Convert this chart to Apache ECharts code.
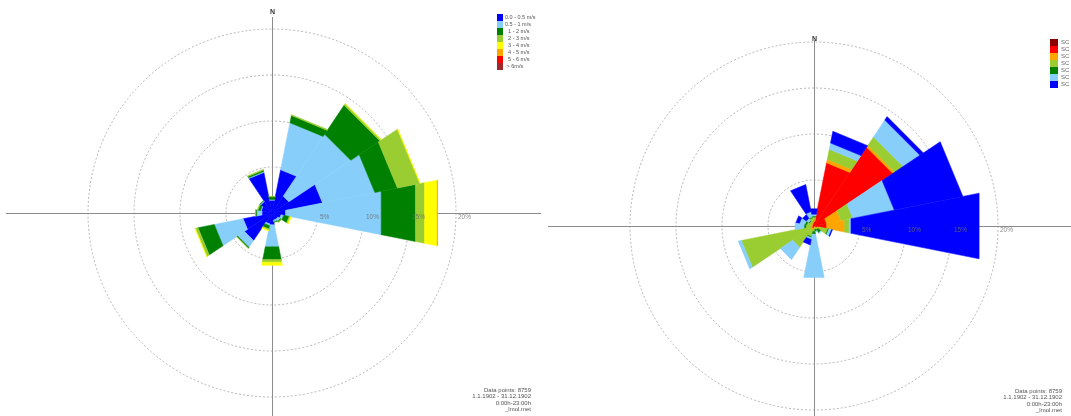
<!DOCTYPE html>
<html>
<head>
<meta charset="utf-8">
<script src="https://cdn.jsdelivr.net/npm/echarts@6/dist/echarts.min.js"></script>
<style>html,body{margin:0;padding:0;background:#fff}#c{width:1071px;height:416px}</style>
</head>
<body>
<div id="c"></div>
<script>
// ---- data ----
var directions = ['N','NNE','NE','ENE','E','ESE','SE','SSE','S','SSW','SW','WSW','W','WNW','NW','NNW'];
var sectorWidth = 22.5; // degrees per direction sector
var ringTicks = [5, 10, 15, 20];

// left rose: wind speed classes (% of time per sector)
var speedNames = ['0.0 - 0.5 m/s','0.5 - 1 m/s','  1 - 2 m/s','  2 - 3 m/s','  3 - 4 m/s','  4 - 5 m/s','  5 - 6 m/s',' > 6m/s'];
var speedColors = ['#0000ff','#87cefa','#008000','#9acd32','#ffff00','#ffa500','#ff0000','#a0282d'];
var spd00_05 = [1.4, 4.8, 2.2, 5.6, 1.5, 1.0, 0.8, 0.8, 1.3, 1.2, 3.6, 3.2, 1.1, 1.2, 1.5, 4.5];
var spd05_1  = [0.1, 5.2, 8.1, 5.8,10.6, 0.3, 0.3, 0.2,2.45, 0.2, 0.9, 3.2, 0.6, 0.1, 0.1, 0.1];
var spd1_2   = [0.3, 0.8, 3.8, 2.5, 3.8, 0.6, 0.1,0.05, 1.4,0.35, 0.1, 1.8, 0.1,0.25,0.05,0.15];
var spd2_3   = [0.05,0.1, 0.2, 2.5, 1.0,0.15,0.05, 0.0, 0.3,0.15,0.05, 0.3,0.05, 0.1, 0.0, 0.1];
var spd3_4   = [0.0, 0.0,0.02,0.05, 1.4, 0.1, 0.0, 0.0,0.35, 0.1, 0.0,0.05, 0.0, 0.0, 0.0, 0.0];
var spd4_5   = [0.0, 0.0, 0.0, 0.0,0.05, 0.0, 0.0, 0.0, 0.0, 0.0, 0.0, 0.0, 0.0, 0.0, 0.0, 0.0];
var spd5_6   = [0.0, 0.0, 0.0, 0.0, 0.0, 0.0, 0.0, 0.0, 0.0, 0.0, 0.0, 0.0, 0.0, 0.0, 0.0, 0.0];
var spd6     = [0.0, 0.0, 0.0, 0.0, 0.0, 0.0, 0.0, 0.0, 0.0, 0.0, 0.0, 0.0, 0.0, 0.0, 0.0, 0.0];
var speedData = [spd00_05, spd05_1, spd1_2, spd2_3, spd3_4, spd4_5, spd5_6, spd6];

// right rose: stability classes (% of time per sector)
var scNames = ['SC I','SC II','SC III/1','SC III/2','SC IV','SC V','SC VI'];
var scColors = ['#8b0000','#ff0000','#ffa500','#9acd32','#008000','#87cefa','#0000ff'];
var sc1 = [0.1, 0.1, 0.1, 0.1, 0.1,0.05, 0.0, 0.0, 0.0, 0.0, 0.0, 0.0, 0.0, 0.0, 0.0, 0.0];
var sc2 = [0.4, 6.9,10.2, 1.3, 1.3, 0.3, 0.1, 0.1, 0.2, 0.3, 0.3, 0.2, 0.2, 0.2, 0.2, 0.3];
var sc3 = [0.2, 0.4,0.25, 1.6, 2.0, 0.3, 0.1, 0.1, 0.1, 0.2, 0.2, 0.1, 0.1, 0.1, 0.1, 0.1];
var sc4 = [0.3, 1.1, 1.1, 1.3, 0.5, 0.9, 0.3, 0.2, 0.3, 0.7, 2.3,7.75, 0.6, 0.5, 0.3, 0.5];
var sc5 = [0.1, 0.0, 0.0, 0.0, 0.0, 0.1, 0.4, 0.2, 0.3, 0.1, 0.0, 0.0, 0.2, 0.2, 0.1, 0.1];
var sc6 = [0.2, 0.7, 2.2, 4.6, 0.2, 0.3, 0.1, 0.1, 4.8, 0.2, 1.6,0.35, 1.0, 0.6, 0.3, 0.6];
var sc7 = [0.6, 1.3,0.45, 7.6,14.2, 0.1, 0.0, 0.0, 0.0, 0.6, 0.0, 0.0, 0.0, 0.4, 0.5, 3.0];
var scData = [sc1, sc2, sc3, sc4, sc5, sc6, sc7];

var infoLines = ['Data points: 8759', '1.1.1902 - 31.12.1902', '0:00h-23:00h', '_lmol.met'];

// ---- layout ----
var L = {cx: 272, cy: 213, r: 184};
var R = {cx: 814, cy: 226, r: 184};
var FONT = 'Liberation Sans, Arial, sans-serif';

function polarAxes(idx) {
  return {
    angle: {
      polarIndex: idx, type: 'value', min: 0, max: 360, startAngle: 90, clockwise: true,
      axisLine: {show: false}, axisTick: {show: false},
      axisLabel: {show: false}, splitLine: {show: false}
    },
    radius: {
      polarIndex: idx, type: 'value', min: 0, max: 20, interval: 5,
      axisLine: {show: false}, axisTick: {show: false}, axisLabel: {show: false},
      splitLine: {show: true, lineStyle: {color: '#9a9a9a', width: 0.7, type: [2, 2]}}
    }
  };
}
var a0 = polarAxes(0), a1 = polarAxes(1);

// wedge (sector with straight outer chord) between stacked radii r0..r1
function renderWedge(params, api) {
  var i = api.value(0), r0 = api.value(1), r1 = api.value(2);
  if (!(r1 > r0)) return null;
  var c = i * sectorWidth;
  var aA = c - sectorWidth / 2, aB = c + sectorWidth / 2;
  var color = api.visual('color');
  var pts = [api.coord([r0, aA]), api.coord([r1, aA]), api.coord([r1, aB]), api.coord([r0, aB])];
  return {type: 'polygon', shape: {points: pts},
    style: {fill: color, stroke: color, lineWidth: 0.5}};
}

function buildStack(classes, names, colors, polarIndex, series) {
  var cum = directions.map(function () { return 0; });
  classes.forEach(function (vals, k) {
    var rows = vals.map(function (v, i) {
      var row = [i, cum[i], cum[i] + v];
      cum[i] += v;
      return row;
    });
    series.push({
      type: 'custom', coordinateSystem: 'polar', polarIndex: polarIndex,
      name: names[k], data: rows, renderItem: renderWedge,
      encode: {radius: 2, angle: 0},
      itemStyle: {color: colors[k]}, silent: true, z: 2
    });
  });
}

var series = [];
buildStack(speedData, speedNames, speedColors, 0, series);
buildStack(scData, scNames, scColors, 1, series);
[0, 1].forEach(function (p) {
  series.push({
    type: 'scatter', coordinateSystem: 'polar', polarIndex: p, symbolSize: 0, silent: true, z: 5,
    data: ringTicks.map(function (t) { return [t, 90]; }),
    label: {show: true, position: [2, 1], align: 'left', verticalAlign: 'top',
      formatter: function (pr) { return pr.value[0] + '%'; },
      color: '#6e6e6e', fontSize: 6.5, fontFamily: FONT}
  });
});

function axisLines(c, x0, x1, yTop) {
  var st = {stroke: '#8c8c8c', lineWidth: 1};
  return [
    {type: 'line', z: 0, silent: true, shape: {x1: x0, y1: c.cy + 0.5, x2: x1, y2: c.cy + 0.5}, style: st},
    {type: 'line', z: 0, silent: true, shape: {x1: c.cx + 0.5, y1: yTop, x2: c.cx + 0.5, y2: 416}, style: st}
  ];
}
var graphics = [].concat(
  axisLines(L, 6, 541, 17),
  axisLines(R, 548, 1071, 40),
  [
    {type: 'text', z: 100, silent: true, x: L.cx + 0.5, y: 12, style: {text: 'N', fill: '#333', font: 'bold 7px ' + FONT, align: 'center', verticalAlign: 'middle'}},
    {type: 'text', z: 100, silent: true, x: R.cx + 0.5, y: 39, style: {text: 'N', fill: '#333', font: 'bold 7px ' + FONT, align: 'center', verticalAlign: 'middle'}},
    {type: 'text', z: 100, silent: true, x: 531, y: 387, style: {text: infoLines.join('\n'), fill: '#555', font: '6px ' + FONT, lineHeight: 6.4, align: 'right', verticalAlign: 'top'}},
    {type: 'text', z: 100, silent: true, x: 1062, y: 388, style: {text: infoLines.join('\n'), fill: '#555', font: '6px ' + FONT, lineHeight: 6.4, align: 'right', verticalAlign: 'top'}}
  ]
);

var chart = echarts.init(document.getElementById('c'), null, {renderer: 'canvas'});
chart.setOption({
  animation: false,
  backgroundColor: '#fff',
  polar: [
    {center: [L.cx, L.cy], radius: L.r},
    {center: [R.cx, R.cy], radius: R.r}
  ],
  angleAxis: [a0.angle, a1.angle],
  radiusAxis: [a0.radius, a1.radius],
  legend: [
    {data: speedNames, orient: 'vertical', left: 497, top: 14, icon: 'rect', itemWidth: 6, itemHeight: 7,
      itemGap: 0, padding: 0, selectedMode: false,
      textStyle: {fontSize: 5.5, color: '#555', fontFamily: FONT, lineHeight: 7, padding: [0, 0, 0, -3]}},
    {data: scNames, orient: 'vertical', left: 1050, top: 39, icon: 'rect', itemWidth: 8, itemHeight: 7,
      itemGap: 0, padding: 0, selectedMode: false,
      textStyle: {fontSize: 6, color: '#666', fontFamily: FONT, lineHeight: 7, padding: [0, 0, 0, -2]}}
  ],
  graphic: graphics,
  series: series
});
</script>
</body>
</html>
